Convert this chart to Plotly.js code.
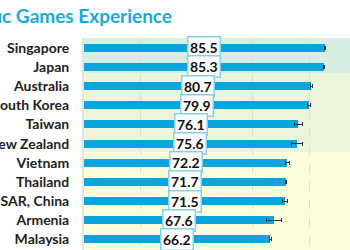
<!DOCTYPE html>
<html>
<head>
<meta charset="utf-8">
<script src="https://cdn.plot.ly/plotly-3.0.1.min.js"></script>
<style>html,body{margin:0;padding:0;background:#fff}#chart{width:350px;height:250px}</style>
</head>
<body>
<div id="chart"></div>
<script>
const countries = ["Singapore","Japan","Australia","South Korea","Taiwan","New Zealand","Vietnam","Thailand","Hong Kong SAR, China","Armenia","Malaysia"];
const scores = [85.5,85.3,80.7,79.9,76.1,75.6,72.2,71.7,71.5,67.6,66.2];
const errors = [0.2,0.2,0.4,0.5,1.4,1.9,0.6,0.3,0.85,2.7,0.3];
const bandEdges = [-0.51, 1.32, 5.45, 11.5];
const bandColors = ["#d8eee1","#eaf5dc","#fdfddb"];
const titleText = "Asia-Pacific Games Experience";

const trace = {
  type: "bar",
  orientation: "h",
  x: scores,
  y: countries,
  width: 0.42,
  marker: {color: "#0aa5df"},
  error_x: {type: "data", array: errors, visible: true, color: "#333", thickness: 1, width: 2},
  hoverinfo: "none"
};

const shapes = bandColors.map((c, i) => ({
  type: "rect", xref: "paper", yref: "y", x0: 0, x1: 1,
  y0: bandEdges[i] , y1: bandEdges[i+1],
  fillcolor: c, line: {width: 0}, layer: "below"
}));

const annotations = scores.map((v, i) => ({
  x: v / 2, y: countries[i], xref: "x", yref: "y",
  text: v.toFixed(1), showarrow: false,
  font: {family: "Lato", size: 14, color: "#111", weight: 700},
  bgcolor: "#ffffff", bordercolor: "#86d0ee", borderwidth: 1.5, borderpad: 1.5
}));

const layout = {
  width: 350, height: 250,
  margin: {l: 84, r: 0, t: 38.3, b: 0},
  paper_bgcolor: "#ffffff",
  plot_bgcolor: "#ffffff",
  title: {
    text: titleText, xref: "container", x: 172/350, xanchor: "right",
    yref: "container", y: 0.935, yanchor: "middle",
    font: {family: "Lato", size: 19, color: "#1aa8dd", weight: 700}
  },
  xaxis: {
    range: [0, 94.45], showgrid: true, gridcolor: "#dcdcdc", griddash: "dash", gridwidth: 1,
    dtick: 20, showticklabels: false, zeroline: false, ticks: "", fixedrange: true
  },
  yaxis: {
    autorange: false, range: [10.55, -0.51], categoryorder: "array", categoryarray: countries,
    showgrid: false, zeroline: false, automargin: false,
    showline: true, linecolor: "#e2e2e2", linewidth: 2,
    ticks: "outside", ticklen: 10, tickcolor: "rgba(0,0,0,0)",
    tickfont: {family: "Lato", size: 14, color: "#222", weight: 700}
  },
  shapes: shapes,
  annotations: annotations,
  showlegend: false,
  bargap: 0
};

Plotly.newPlot("chart", [trace], layout, {displayModeBar: false, staticPlot: true});
</script>
</body>
</html>
